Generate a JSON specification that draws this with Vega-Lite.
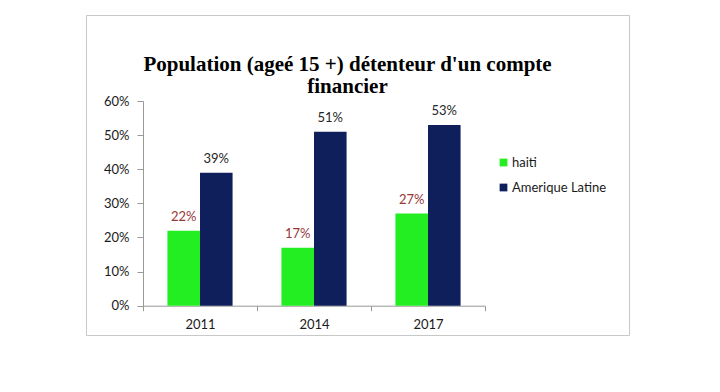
{
  "$schema": "https://vega.github.io/schema/vega-lite/v6.json",
  "autosize": {"type": "none"},
  "padding": {"left": 86, "top": 15, "right": 91, "bottom": 57},
  "width": 543,
  "height": 320,
  "background": "white",
  "config": {
    "view": {"stroke": "#c8c8c8", "strokeWidth": 1, "fill": "white"},
    "font": "Lato"
  },
  "title": {
    "text": ["Population (ageé 15 +) détenteur d'un compte", "financier"],
    "font": "Liberation Serif",
    "fontSize": 21,
    "fontWeight": "bold",
    "color": "#000000",
    "anchor": "middle",
    "lineHeight": 22,
    "offset": -82,
    "dx": -10
  },
  "data": {
    "values": [
      {"year": "2011", "series": "haiti", "value": 0.22},
      {"year": "2011", "series": "Amerique Latine", "value": 0.39},
      {"year": "2014", "series": "haiti", "value": 0.17},
      {"year": "2014", "series": "Amerique Latine", "value": 0.51},
      {"year": "2017", "series": "haiti", "value": 0.27},
      {"year": "2017", "series": "Amerique Latine", "value": 0.53}
    ]
  },
  "encoding": {
    "x": {
      "field": "year",
      "type": "nominal",
      "scale": {"range": [57, 399], "paddingInner": 0, "paddingOuter": 0},
      "axis": {
        "title": null,
        "labelAngle": 0,
        "offset": -29.3,
        "tickBand": "extent",
        "domainColor": "#999999",
        "tickColor": "#999999",
        "tickSize": 5,
        "labelFont": "Lato",
        "labelFontSize": 13,
        "labelColor": "#1a1a1a",
        "labelPadding": 8
      }
    },
    "xOffset": {
      "field": "series",
      "type": "nominal",
      "sort": ["haiti", "Amerique Latine"],
      "scale": {"paddingInner": 0, "paddingOuter": 0.75}
    },
    "y": {
      "field": "value",
      "type": "quantitative",
      "scale": {"domain": [0, 0.6], "range": [290.7, 86], "nice": false, "zero": true},
      "axis": {
        "title": null,
        "format": ".0%",
        "values": [0, 0.1, 0.2, 0.3, 0.4, 0.5, 0.6],
        "grid": false,
        "offset": -57,
        "domainColor": "#999999",
        "tickColor": "#999999",
        "tickSize": 6,
        "labelFont": "Lato",
        "labelFontSize": 13,
        "labelColor": "#1a1a1a",
        "labelPadding": 8
      }
    }
  },
  "layer": [
    {
      "mark": {"type": "bar"},
      "encoding": {
        "color": {
          "field": "series",
          "type": "nominal",
          "sort": ["haiti", "Amerique Latine"],
          "scale": {"domain": ["haiti", "Amerique Latine"], "range": ["#22ee22", "#0f1f5c"]},
          "legend": {
            "title": null,
            "orient": "none",
            "legendX": 411,
            "legendY": 141,
            "padding": 0,
            "symbolType": "square",
            "symbolSize": 60,
            "symbolStrokeWidth": 0,
            "symbolOffset": 0,
            "labelFont": "Lato",
            "labelFontSize": 13,
            "labelColor": "#1a1a1a",
            "labelOffset": 2,
            "rowPadding": 11
          }
        }
      }
    },
    {
      "mark": {"type": "text", "baseline": "alphabetic", "dy": -10, "font": "Lato", "fontSize": 13},
      "encoding": {
        "text": {"field": "value", "type": "quantitative", "format": ".0%"},
        "color": {
          "condition": {"test": "datum.series === 'haiti'", "value": "#953735"},
          "value": "#262626"
        }
      }
    }
  ]
}
